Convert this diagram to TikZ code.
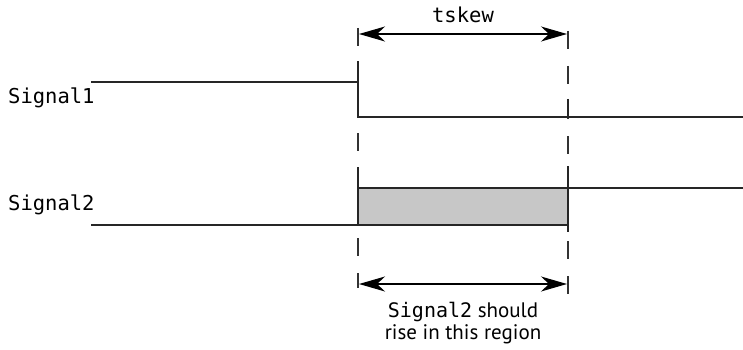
\documentclass[tikz,border=0pt]{standalone}
\usepackage{fontspec}
\setmainfont{PT Sans}
\newfontfamily\monofont{DejaVu Sans Mono}
\usetikzlibrary{arrows.meta}
\begin{document}
\begin{tikzpicture}[x=1pt,y=-1pt,
  sig/.style={line width=1.4pt,draw=black!85},
  guide/.style={line width=1.8pt,draw=black!80,dash pattern=on 18pt off 17pt},
  dim/.style={line width=1.4pt,{Stealth[length=26pt,width=15pt,inset=8pt]}-{Stealth[length=26pt,width=15pt,inset=8pt]}},
  lbl/.style={inner sep=0pt,font=\monofont\fontsize{20.5}{22}\selectfont},
  note/.style={inner sep=0pt,align=center,font=\fontsize{21}{21.5}\selectfont}]
\useasboundingbox (0,0) rectangle (743,350);
% coordinates
\coordinate (s1a) at (91,82);
\coordinate (s1b) at (358,82);
\coordinate (s1c) at (358,117);
\coordinate (s1d) at (743,117);
\coordinate (s2a) at (91,225);
\coordinate (s2b) at (358,225);
\coordinate (s2c) at (568,188);
\coordinate (s2d) at (743,188);
\coordinate (g1t) at (358,28);
\coordinate (g1b) at (358,288);
\coordinate (g2t) at (568,31);
\coordinate (g2b) at (568,294);
\coordinate (a1l) at (359,34);
\coordinate (a1r) at (567,34);
\coordinate (a2l) at (359,284);
\coordinate (a2r) at (567,284);
% shaded window
\fill[black!22] (s2b) rectangle (s2c);
% guides
\draw[guide] (g1t) -- (g1b);
\draw[guide] (g2t) -- (g2b);
% signals
\draw[sig] (s1a) -- (s1b) -- (358,61) (s1b) -- (s1c) -- (s1d);
\draw[sig] (s2a) -- (s2b) -- (358,188) -- (s2c) -- (s2d);
\draw[sig] (s2b) -- (568,225) -- (s2c);
\draw[sig] (358,167) -- (358,188);
\draw[sig] (568,99) -- (568,117);
\draw[sig] (568,166) -- (568,232);
% dimension arrows
\draw[dim] (a1l) -- (a1r);
\draw[dim] (a2l) -- (a2r);
% labels
\node[lbl,anchor=west] (n1) at (8,98) {Signal1};
\node[lbl,anchor=west] (n2) at (8,205) {Signal2};
\node[lbl] (tk) at (463,15) {tskew};
\node[note] (rg) at (463,323) {{\monofont\fontsize{20}{21}\selectfont Signal2} should\\rise in this region};
\end{tikzpicture}
\end{document}
